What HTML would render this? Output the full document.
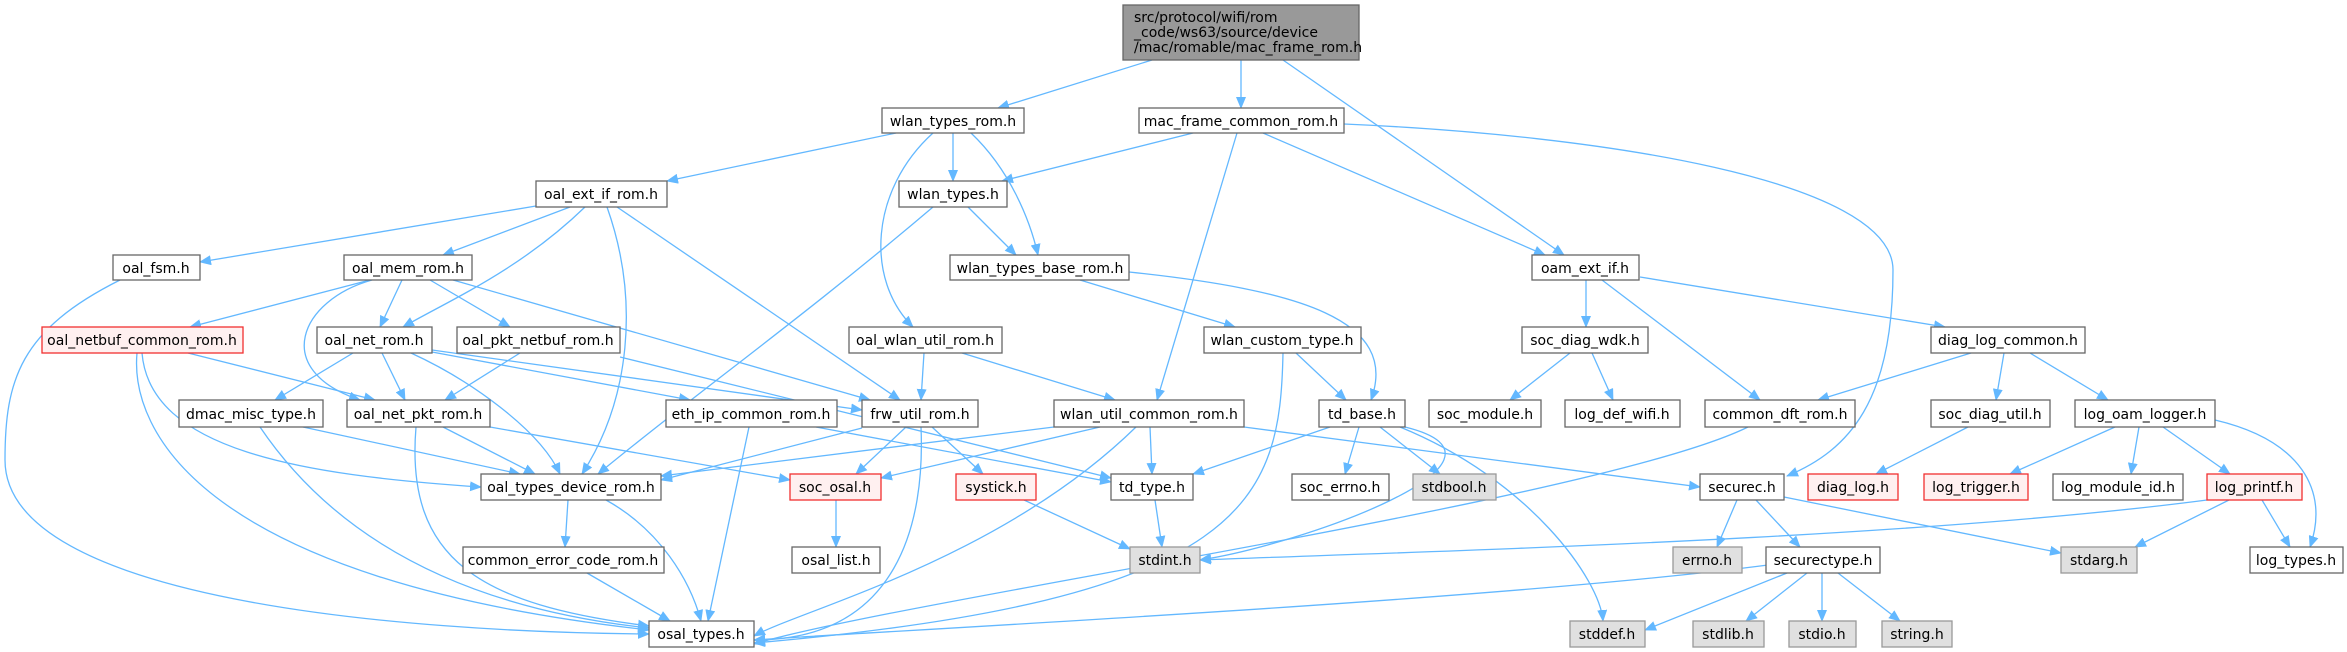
<!DOCTYPE html>
<html><head><meta charset="utf-8"><style>
html,body{margin:0;padding:0;background:#fff;}
svg{display:block;}
text{font-family:"DejaVu Sans","Liberation Sans",sans-serif;font-size:14px;fill:#000;}
.n{fill:#fff;stroke:#666;stroke-width:1.3;}
.g{fill:#e0e0e0;stroke:#999;stroke-width:1.3;}
.r{fill:#fff0f0;stroke:#f03030;stroke-width:1.3;}
.e path{fill:none;stroke:#63b8ff;stroke-width:1.3;marker-end:url(#a);}
</style></head><body>
<svg width="2347" height="652" viewBox="0 0 2347 652" xmlns="http://www.w3.org/2000/svg">
<defs><marker id="a" markerUnits="userSpaceOnUse" markerWidth="12" markerHeight="10" refX="11" refY="5" orient="auto"><path d="M0,0 L12,5 L0,10 z" fill="#63b8ff"/></marker></defs>
<g class="e">
<path d="M1152 60 L998 108"/><path d="M1241 60 L1241 108"/><path d="M1283 60 L1564 255"/>
<path d="M896 133 L667 181"/><path d="M953 133 L953 181"/><path d="M971 133 C1010 170 1030 220 1038 255"/><path d="M933 133 C870 190 865 280 913 327"/>
<path d="M1193 133 L1002 181"/><path d="M1237 133 L1157 400"/><path d="M1263 133 L1545 255"/><path d="M1344 124 C1600 135 1893 180 1893 270 C1893 400 1850 450 1787 476"/>
<path d="M536 206 L200 262"/><path d="M570 207 L443 255"/><path d="M585 207 C520 270 450 300 403 327"/><path d="M607 207 C640 300 630 400 582 474"/><path d="M617 207 L900 400"/>
<path d="M120 280 C20 330 5 380 5 460 C5 600 400 632 649 634"/>
<path d="M370 280 L190 327"/><path d="M372 280 C300 300 270 370 360 400"/><path d="M402 280 L380 327"/><path d="M430 280 L510 327"/><path d="M453 280 L870 400"/>
<path d="M933 207 C800 320 700 390 598 474"/><path d="M968 207 L1016 255"/>
<path d="M1080 280 L1235 327"/><path d="M1129 272 C1300 290 1400 320 1371 400"/>
<path d="M1586 280 L1586 327"/><path d="M1602 280 L1760 400"/><path d="M1640 277 L1945 327"/>
<path d="M188 353 L375 400"/><path d="M142 353 C150 450 300 475 481 487"/><path d="M137 353 C130 430 200 580 649 630"/>
<path d="M353 353 L275 400"/><path d="M382 353 L405 400"/><path d="M411 353 C470 380 540 430 560 474"/><path d="M432 352 L690 400"/><path d="M432 350 L862 410"/>
<path d="M520 353 L445 400"/><path d="M620 357 L1111 478"/>
<path d="M924 353 L921 400"/><path d="M962 353 L1115 400"/>
<path d="M1296 353 L1346 400"/><path d="M1283 353 C1280 500 1250 600 754 643"/>
<path d="M1570 353 L1510 400"/><path d="M1592 353 L1613 400"/>
<path d="M1971 353 L1818 400"/><path d="M2004 353 L1996 400"/><path d="M2030 353 L2108 400"/>
<path d="M303 427 L520 474"/><path d="M260 427 C350 560 500 612 649 628"/>
<path d="M443 427 L535 474"/><path d="M416 427 C405 560 480 605 649 626"/><path d="M490 427 L790 480"/>
<path d="M749 427 L708 621"/><path d="M816 427 L1111 482"/>
<path d="M862 428 L661 480"/><path d="M906 427 L856 474"/><path d="M932 427 L983 474"/><path d="M921 427 C925 520 900 640 754 640"/>
<path d="M1054 427 L661 476"/><path d="M1100 427 L881 478"/><path d="M1150 427 L1152 474"/><path d="M1136 427 C1000 560 800 610 754 636"/><path d="M1244 427 L1700 487"/>
<path d="M1330 427 L1193 474"/><path d="M1359 427 L1345 474"/><path d="M1380 427 L1440 474"/><path d="M1405 427 C1540 460 1300 545 1200 560"/><path d="M1400 427 C1530 480 1600 580 1603 621"/>
<path d="M1748 427 C1600 500 900 600 754 644"/>
<path d="M1968 427 L1876 474"/>
<path d="M2115 427 L2010 474"/><path d="M2139 427 L2131 474"/><path d="M2163 427 L2230 474"/><path d="M2215 420 C2300 440 2330 490 2310 547"/>
<path d="M2262 500 L2290 547"/><path d="M2229 500 L2135 547"/><path d="M2207 500 C1900 540 1400 552 1200 560"/>
<path d="M1737 500 L1717 547"/><path d="M1756 500 L1800 547"/><path d="M1784 497 L2061 553"/>
<path d="M1787 573 L1645 630"/><path d="M1807 573 L1746 621"/><path d="M1822 573 L1822 621"/><path d="M1838 573 L1900 621"/><path d="M1768 565 C1500 600 900 630 754 640"/>
<path d="M568 500 L565 547"/><path d="M606 500 C660 530 690 580 701 621"/>
<path d="M587 573 L670 621"/><path d="M836 500 L836 547"/><path d="M1024 500 L1130 549"/><path d="M1155 500 L1162 547"/>
</g>
<rect x="1123" y="5" width="236" height="55" fill="#999" stroke="#666" stroke-width="1.3"/>
<text x="1134" y="22">src/protocol/wifi/rom</text><text x="1134" y="37">_code/ws63/source/device</text><text x="1134" y="52">/mac/romable/mac_frame_rom.h</text>
<g text-anchor="middle">
<rect class="n" x="882" y="108" width="142" height="25"/><text x="953" y="126">wlan_types_rom.h</text>
<rect class="n" x="1139" y="108" width="205" height="25"/><text x="1241" y="126">mac_frame_common_rom.h</text>
<rect class="n" x="536" y="181" width="131" height="26"/><text x="601" y="199">oal_ext_if_rom.h</text>
<rect class="n" x="899" y="181" width="108" height="26"/><text x="953" y="199">wlan_types.h</text>
<rect class="n" x="113" y="255" width="87" height="25"/><text x="156" y="273">oal_fsm.h</text>
<rect class="n" x="344" y="255" width="128" height="25"/><text x="408" y="273">oal_mem_rom.h</text>
<rect class="n" x="950" y="255" width="179" height="25"/><text x="1040" y="273">wlan_types_base_rom.h</text>
<rect class="n" x="1532" y="255" width="107" height="25"/><text x="1585" y="273">oam_ext_if.h</text>
<rect class="r" x="42" y="327" width="201" height="26"/><text x="142" y="345">oal_netbuf_common_rom.h</text>
<rect class="n" x="317" y="327" width="115" height="26"/><text x="374" y="345">oal_net_rom.h</text>
<rect class="n" x="457" y="327" width="163" height="26"/><text x="538" y="345">oal_pkt_netbuf_rom.h</text>
<rect class="n" x="849" y="327" width="153" height="26"/><text x="925" y="345">oal_wlan_util_rom.h</text>
<rect class="n" x="1204" y="327" width="157" height="26"/><text x="1282" y="345">wlan_custom_type.h</text>
<rect class="n" x="1522" y="327" width="126" height="26"/><text x="1585" y="345">soc_diag_wdk.h</text>
<rect class="n" x="1931" y="327" width="154" height="26"/><text x="2008" y="345">diag_log_common.h</text>
<rect class="n" x="179" y="400" width="144" height="27"/><text x="251" y="419">dmac_misc_type.h</text>
<rect class="n" x="347" y="400" width="143" height="27"/><text x="418" y="419">oal_net_pkt_rom.h</text>
<rect class="n" x="666" y="400" width="171" height="27"/><text x="751" y="419">eth_ip_common_rom.h</text>
<rect class="n" x="862" y="400" width="116" height="27"/><text x="920" y="419">frw_util_rom.h</text>
<rect class="n" x="1054" y="400" width="190" height="27"/><text x="1149" y="419">wlan_util_common_rom.h</text>
<rect class="n" x="1319" y="400" width="86" height="27"/><text x="1362" y="419">td_base.h</text>
<rect class="n" x="1429" y="400" width="112" height="27"/><text x="1485" y="419">soc_module.h</text>
<rect class="n" x="1565" y="400" width="115" height="27"/><text x="1622" y="419">log_def_wifi.h</text>
<rect class="n" x="1705" y="400" width="150" height="27"/><text x="1780" y="419">common_dft_rom.h</text>
<rect class="n" x="1931" y="400" width="119" height="27"/><text x="1990" y="419">soc_diag_util.h</text>
<rect class="n" x="2075" y="400" width="140" height="27"/><text x="2145" y="419">log_oam_logger.h</text>
<rect class="n" x="481" y="474" width="180" height="26"/><text x="571" y="492">oal_types_device_rom.h</text>
<rect class="r" x="790" y="474" width="91" height="26"/><text x="835" y="492">soc_osal.h</text>
<rect class="r" x="956" y="474" width="80" height="26"/><text x="996" y="492">systick.h</text>
<rect class="n" x="1111" y="474" width="82" height="26"/><text x="1152" y="492">td_type.h</text>
<rect class="n" x="1292" y="474" width="97" height="26"/><text x="1340" y="492">soc_errno.h</text>
<rect class="g" x="1413" y="474" width="83" height="26"/><text x="1454" y="492">stdbool.h</text>
<rect class="n" x="1700" y="474" width="84" height="26"/><text x="1742" y="492">securec.h</text>
<rect class="r" x="1808" y="474" width="90" height="26"/><text x="1853" y="492">diag_log.h</text>
<rect class="r" x="1924" y="474" width="104" height="26"/><text x="1976" y="492">log_trigger.h</text>
<rect class="n" x="2053" y="474" width="130" height="26"/><text x="2118" y="492">log_module_id.h</text>
<rect class="r" x="2207" y="474" width="95" height="26"/><text x="2254" y="492">log_printf.h</text>
<rect class="n" x="463" y="547" width="201" height="26"/><text x="563" y="565">common_error_code_rom.h</text>
<rect class="n" x="792" y="547" width="88" height="26"/><text x="836" y="565">osal_list.h</text>
<rect class="g" x="1130" y="547" width="70" height="26"/><text x="1165" y="565">stdint.h</text>
<rect class="g" x="1673" y="547" width="69" height="26"/><text x="1707" y="565">errno.h</text>
<rect class="n" x="1766" y="547" width="114" height="26"/><text x="1823" y="565">securectype.h</text>
<rect class="g" x="2061" y="547" width="76" height="26"/><text x="2099" y="565">stdarg.h</text>
<rect class="n" x="2250" y="547" width="93" height="26"/><text x="2296" y="565">log_types.h</text>
<rect class="n" x="649" y="621" width="105" height="26"/><text x="701" y="639">osal_types.h</text>
<rect class="g" x="1570" y="621" width="75" height="26"/><text x="1607" y="639">stddef.h</text>
<rect class="g" x="1693" y="621" width="71" height="26"/><text x="1728" y="639">stdlib.h</text>
<rect class="g" x="1789" y="621" width="67" height="26"/><text x="1822" y="639">stdio.h</text>
<rect class="g" x="1882" y="621" width="70" height="26"/><text x="1917" y="639">string.h</text>
</g>
</svg>
</body></html>
